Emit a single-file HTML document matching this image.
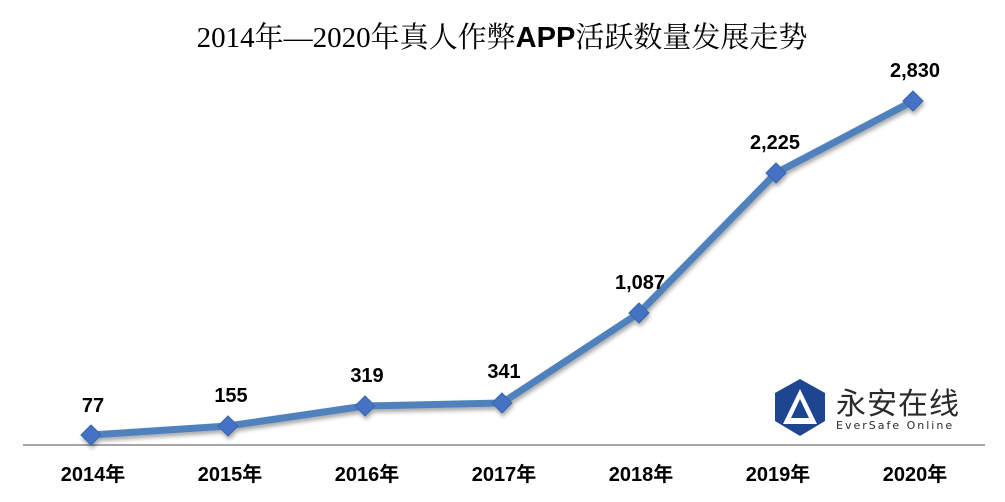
<!DOCTYPE html>
<html><head><meta charset="utf-8"><style>
html,body{margin:0;padding:0;background:#fff;}
svg{display:block}
</style></head><body>
<svg width="1005" height="502" viewBox="0 0 1005 502" xmlns="http://www.w3.org/2000/svg">
<defs>
<filter id="sh" x="-10%" y="-10%" width="120%" height="130%"><feDropShadow dx="1" dy="3" stdDeviation="2" flood-color="#000" flood-opacity="0.35"/></filter>
</defs>
<text x="502" y="47" text-anchor="middle" font-family="'Liberation Serif','Noto Serif CJK SC',serif" font-size="29" fill="#000">2014年—2020年真人作弊<tspan font-family="'Liberation Sans',sans-serif" font-weight="bold">APP</tspan>活跃数量发展走势</text>
<line x1="23" y1="445" x2="985" y2="445" stroke="#888" stroke-width="1.5"/>
<g filter="url(#sh)">
<polyline points="91,435 228,426 365,406 502,403 639,313 776,173 913,101" fill="none" stroke="#4f81bd" stroke-width="7" stroke-linejoin="round"/>
<g fill="#4472c4" stroke="#3a67a8" stroke-width="1">
<path d="M91,425 l10,10 -10,10 -10,-10z"/>
<path d="M228,416 l10,10 -10,10 -10,-10z"/>
<path d="M365,396 l10,10 -10,10 -10,-10z"/>
<path d="M502,393 l10,10 -10,10 -10,-10z"/>
<path d="M639,303 l10,10 -10,10 -10,-10z"/>
<path d="M776,163 l10,10 -10,10 -10,-10z"/>
<path d="M913,91 l10,10 -10,10 -10,-10z"/>
</g></g>
<g font-family="'Liberation Sans','Noto Sans CJK SC',sans-serif" font-weight="bold" font-size="20" fill="#000" text-anchor="middle">
<text x="93" y="412">77</text>
<text x="231" y="402">155</text>
<text x="367" y="382">319</text>
<text x="504" y="378">341</text>
<text x="640" y="289">1,087</text>
<text x="775" y="149">2,225</text>
<text x="915" y="77">2,830</text>
<text x="93" y="481">2014年</text>
<text x="230" y="481">2015年</text>
<text x="367" y="481">2016年</text>
<text x="504" y="481">2017年</text>
<text x="641" y="481">2018年</text>
<text x="778" y="481">2019年</text>
<text x="915" y="481">2020年</text>
</g>
<g>
<path d="M800,379 L825,393 L825,421 L800,436 L775,421 L775,393 Z" fill="#1d4590"/>
<path d="M800,389 L817,424 L783,424 Z M800,399 L809,418 L791,418 Z" fill="#fff" fill-rule="evenodd"/>
<path d="M800,406 L804,414 L796,414Z" fill="#1d4590"/>
<text x="836" y="414" font-family="'Noto Sans CJK SC',sans-serif" font-size="30" fill="#2a2a2a" letter-spacing="1">永安在线</text>
<text x="836" y="429" font-family="'DejaVu Sans',sans-serif" font-size="11" fill="#2a2a2a" letter-spacing="2">EverSafe Online</text>
</g>
</svg>
</body></html>
